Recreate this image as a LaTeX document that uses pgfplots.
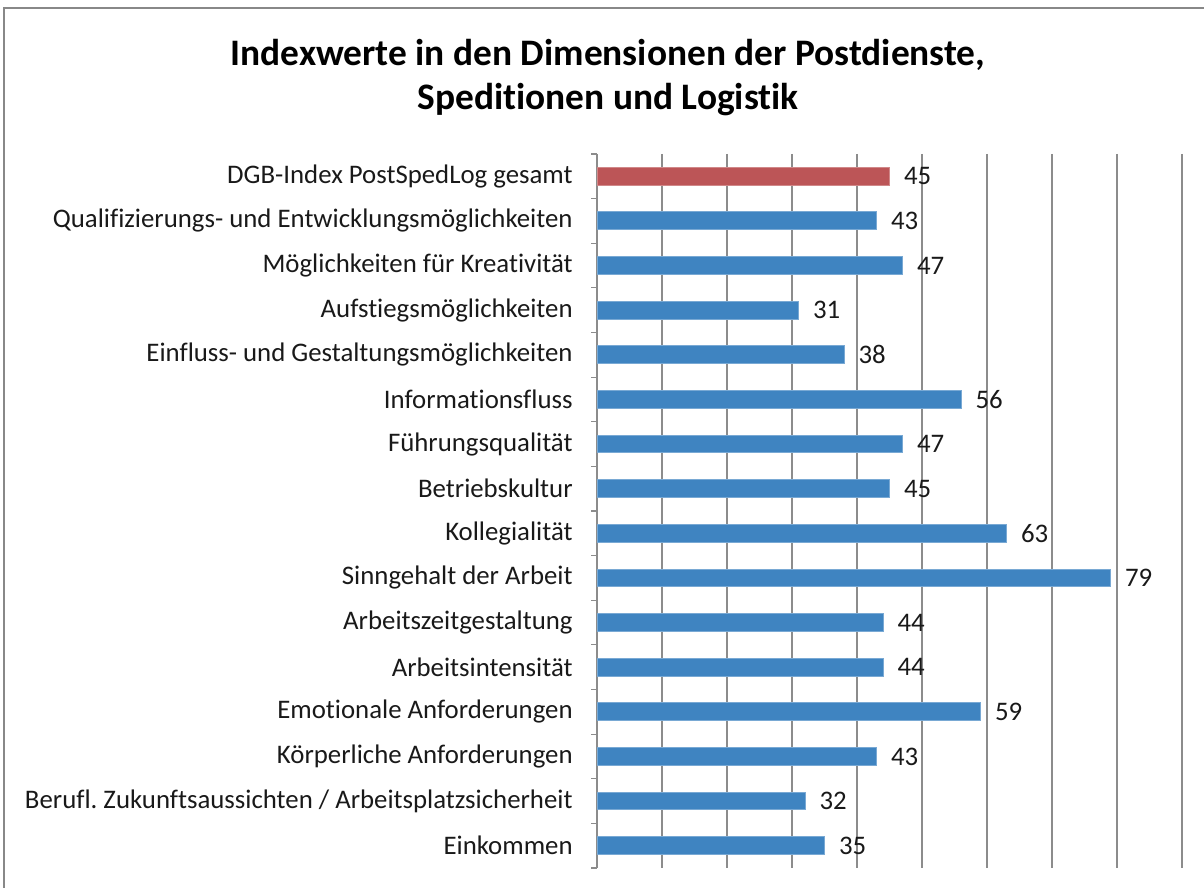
\documentclass[border=0pt]{standalone}
\usepackage{pgfplots}
\pgfplotsset{compat=1.18}
\usepackage{fontspec}
\setmainfont{Carlito}[Ligatures={NoCommon}]
\definecolor{barblue}{HTML}{3F84C1}
\definecolor{barred}{HTML}{BC5557}
\definecolor{gridgray}{HTML}{8C8C8C}
\definecolor{framegray}{HTML}{888888}
\frenchspacing
\begin{document}
\begin{tikzpicture}[x=1bp,y=1bp]
\path[use as bounding box] (0,0) rectangle (602,444);
\draw[framegray, line width=1bp] (2,0) -- (2,440) -- (602,440);
\node[anchor=base, inner sep=0pt, font=\fontsize{18.7bp}{22bp}\selectfont\bfseries] at (304,411) {Indexwerte in den Dimensionen der Postdienste,};
\node[anchor=base, inner sep=0pt, font=\fontsize{18.7bp}{22bp}\selectfont\bfseries] at (304,389) {Speditionen und Logistik};
\begin{axis}[
  at={(298.5bp,10bp)}, anchor=south west,
  width=292.5bp, height=357bp, scale only axis,
  xbar, bar width=0.4, bar shift=0pt,
  y dir=reverse,
  xmin=0, xmax=90, ymin=-0.5, ymax=15.5,
  axis lines*=left,
  x axis line style={draw=none},
  y axis line style={gridgray, line width=0.6bp},
  xtick={10,20,...,90}, xticklabels={},
  xmajorgrids, grid style={gridgray, line width=0.6bp},
  ytick={0,...,15},
  yticklabels={DGB-Index PostSpedLog gesamt,
    Qualifizierungs- und Entwicklungsmöglichkeiten,
    Möglichkeiten für Kreativität,
    Aufstiegsmöglichkeiten,
    Einfluss- und Gestaltungsmöglichkeiten,
    Informationsfluss,
    Führungsqualität,
    Betriebskultur,
    Kollegialität,
    Sinngehalt der Arbeit,
    Arbeitszeitgestaltung,
    Arbeitsintensität,
    Emotionale Anforderungen,
    Körperliche Anforderungen,
    Berufl.\ Zukunftsaussichten / Arbeitsplatzsicherheit,
    Einkommen},
  minor ytick={-0.5,0.5,...,15.5},
  major tick length=0pt, minor tick length=3bp,
  tick align=outside,
  minor tick style={gridgray, line width=0.6bp},
  yticklabel style={font=\fontsize{13.4bp}{16bp}\selectfont, inner sep=0pt, xshift=-12bp, text=black!90},
  nodes near coords={\pgfmathprintnumber\pgfplotspointmeta},
  point meta=x,
  nodes near coords style={anchor=west, inner sep=0pt, xshift=7bp, font=\fontsize{13.4bp}{16bp}\selectfont, text=black!90, /pgf/number format/assume math mode=true},
  clip=false,
]
\addplot[fill=barred, draw=barred!70!white, line width=0.5bp] coordinates {(45,0)};
\addplot[fill=barblue, draw=barblue!70!white, line width=0.5bp] coordinates {
  (43,1) (47,2) (31,3) (38,4) (56,5) (47,6) (45,7) (63,8) (79,9)
  (44,10) (44,11) (59,12) (43,13) (32,14) (35,15)};
\end{axis}
\end{tikzpicture}
\end{document}
